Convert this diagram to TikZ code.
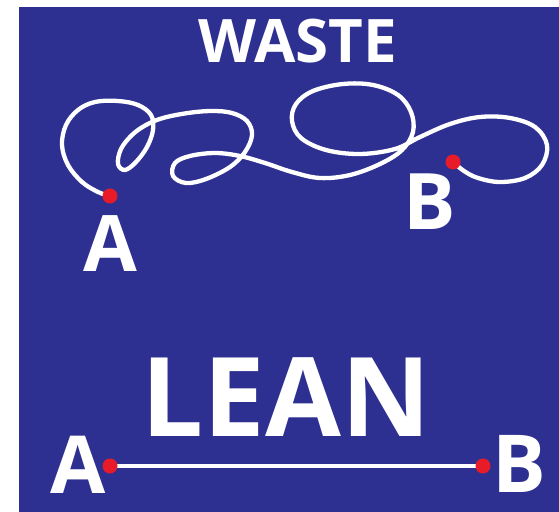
\documentclass[tikz,border=0pt]{standalone}
\usepackage{fontspec}
\setmainfont{Open Sans}
\definecolor{bgblue}{RGB}{45,48,145}
\definecolor{dotred}{RGB}{232,28,40}
\tikzset{
  lbl/.style={text=white, inner sep=0pt, font=\bfseries},
  reddot/.style={circle, fill=dotred, minimum size=15bp, inner sep=0pt},
  wire/.style={white, line width=4.3bp, line cap=round, line join=round},
}
\begin{document}
\begin{tikzpicture}[x=1bp,y=-1bp]
\useasboundingbox (0,0) rectangle (559,512);
\fill[white] (0,0) rectangle (559,512);
\fill[bgblue] (19,7) rectangle (559,512);
% titles
\node[lbl, font=\bfseries\fontsize{60bp}{60bp}\selectfont] (waste) at (298,41.5) {WASTE};
\node[lbl, font=\bfseries\fontsize{110bp}{110bp}\selectfont] (lean) at (286,397) {LEAN};
% waste path
\coordinate (pA) at (110,196);
\coordinate (pB) at (453,162);
\draw[wire] plot[smooth, tension=0.6] coordinates {
 (pA) (98,192) (82,182) (68,165) (62,145) (66,125) (78,110) (95,102) (118,101)
 (138,105) (151,115) (153,130) (147,147) (136,162) (125,170) (118,164) (121,149)
 (132,135) (146,125) (163,118) (188,113) (212,111) (232,113) (247,121) (252,135) (245,152)
 (230,167) (206,179) (186,183) (173,176) (175,163) (190,156) (215,153) (240,156)
 (265,163) (292,172) (320,178) (350,175) (380,164) (402,150) (413,132) (411,112)
 (398,95) (373,85) (343,84) (313,91) (296,104) (292,121) (301,138) (326,150)
 (360,154) (395,149) (420,137) (450,124) (480,117) (510,118) (535,127) (547,145)
 (542,165) (525,178) (500,182) (478,178) (464,171) (pB)};
\node[reddot] (dA) at (pA) {};
\node[reddot] (dB) at (pB) {};
\node[lbl, font=\bfseries\fontsize{78bp}{78bp}\selectfont] (uA) at (110,243.5) {A};
\node[lbl, font=\bfseries\fontsize{78bp}{78bp}\selectfont] (uB) at (430,202) {B};
% lean path
\coordinate (cA) at (110,466);
\coordinate (cB) at (483,466);
\draw[white, line width=3.5bp] (cA) -- (cB);
\node[reddot] (lA) at (cA) {};
\node[reddot] (lB) at (cB) {};
\node[lbl, font=\bfseries\fontsize{80bp}{80bp}\selectfont] (bA) at (78,465) {A};
\node[lbl, font=\bfseries\fontsize{80bp}{80bp}\selectfont] (bB) at (519,464) {B};
\end{tikzpicture}
\end{document}
